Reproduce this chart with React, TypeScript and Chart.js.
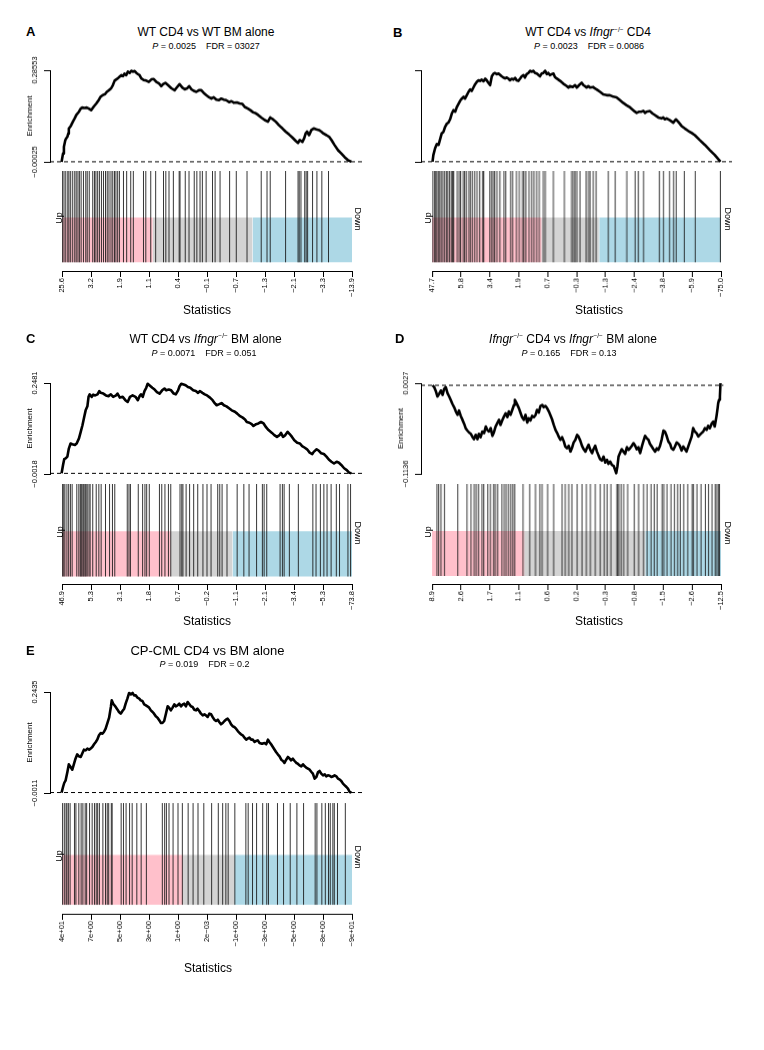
import React, { useEffect, useRef } from "react";
import { Chart, registerables } from "chart.js";

Chart.register(...registerables);

const FONT = '"Liberation Sans", Arial, Helvetica, sans-serif';
Chart.defaults.font.family = FONT;

// ---------------- DATA ----------------
// running enrichment ("worm"): [rank position in % of ranked genes, enrichment]
const wormA: [number, number][] = [[0,0],[0.5,0.026],[0.8,0.047],[1.3,0.068],[1.6,0.073],[2.0,0.078],[2.3,0.088],[2.5,0.104],[3.0,0.109],[3.3,0.114],[3.9,0.125],[4.5,0.135],[5.1,0.146],[6.0,0.156],[6.6,0.166],[7.1,0.169],[7.9,0.168],[8.7,0.169],[9.4,0.166],[10.2,0.161],[11.0,0.171],[12.0,0.182],[12.9,0.194],[13.5,0.203],[14.3,0.208],[15.0,0.211],[15.6,0.218],[16.3,0.223],[17.1,0.229],[17.7,0.239],[18.3,0.253],[18.9,0.257],[19.4,0.260],[20.0,0.265],[20.6,0.270],[21.2,0.267],[21.7,0.275],[22.3,0.270],[22.9,0.281],[23.5,0.277],[24.1,0.284],[24.6,0.281],[25.2,0.283],[25.8,0.277],[26.4,0.273],[26.9,0.270],[27.5,0.260],[28.3,0.255],[29.2,0.253],[30.1,0.249],[31.0,0.257],[31.8,0.258],[32.7,0.249],[33.6,0.244],[34.4,0.236],[35.0,0.242],[35.8,0.246],[36.7,0.239],[37.9,0.229],[39.0,0.223],[39.8,0.232],[40.7,0.242],[41.7,0.231],[42.5,0.226],[43.3,0.229],[44.0,0.236],[44.8,0.226],[45.6,0.221],[46.5,0.218],[47.4,0.223],[48.2,0.223],[49.0,0.215],[49.9,0.208],[50.9,0.201],[51.7,0.197],[52.5,0.201],[53.4,0.194],[54.3,0.192],[55.1,0.197],[55.9,0.194],[56.8,0.192],[57.8,0.186],[58.6,0.189],[59.5,0.184],[60.5,0.185],[61.4,0.182],[62.4,0.180],[63.2,0.171],[64.3,0.166],[65.1,0.161],[66.1,0.154],[67.0,0.151],[67.8,0.146],[68.9,0.138],[70.1,0.130],[71.2,0.125],[72.0,0.138],[73.0,0.132],[73.9,0.125],[75.0,0.114],[76.2,0.104],[77.3,0.094],[78.5,0.085],[79.6,0.076],[80.8,0.065],[81.6,0.059],[82.2,0.068],[83.1,0.062],[83.7,0.073],[84.2,0.088],[84.7,0.094],[85.4,0.083],[86.2,0.099],[87.0,0.104],[87.9,0.101],[88.8,0.099],[89.6,0.094],[90.4,0.088],[91.4,0.083],[92.3,0.078],[93.1,0.068],[94.2,0.052],[95.4,0.036],[96.5,0.026],[97.7,0.014],[98.8,0.005],[100,0]];
const hitsA = [0.2,0.7,1.3,2.0,2.4,3.0,3.7,4.4,4.9,5.5,6.0,6.6,7.4,8.2,8.7,9.4,10.6,11.2,11.7,12.3,12.9,13.6,14.3,15.0,15.6,16.2,16.9,17.5,18.1,18.6,19.2,19.8,21.2,22.3,23.7,24.6,28.1,28.9,30.6,32.3,35.0,35.8,36.9,38.4,40.4,40.7,42.5,43.8,45.6,46.5,47.6,48.4,49.7,51.9,52.8,54.5,57.8,60.1,63.8,68.7,70.7,71.8,77.1,81.4,81.8,82.4,83.7,84.2,84.7,86.4,87.9,89.6,91.9];
const bandsA = [31.3, 65.7];
const xLabelsA = ["25.6","3.2","1.9","1.1","0.4","−0.1","−0.7","−1.3","−2.1","−3.3","−13.9"];
const yTicksA = [-0.00025, 0.28553];
const yLabelsA = ["−0.00025", "0.28553"];

const wormB: [number, number][] = [[0,0],[0.3,0.022],[0.9,0.044],[1.5,0.058],[2.1,0.055],[2.7,0.076],[3.2,0.093],[3.8,0.098],[4.4,0.115],[5.0,0.125],[5.5,0.128],[6.1,0.139],[6.7,0.158],[7.3,0.169],[7.9,0.164],[8.4,0.178],[9.0,0.189],[9.6,0.200],[10.2,0.207],[10.8,0.213],[11.3,0.207],[11.9,0.218],[12.5,0.229],[13.1,0.237],[13.6,0.232],[14.2,0.243],[14.8,0.254],[15.4,0.262],[16.0,0.267],[16.5,0.265],[17.1,0.269],[17.7,0.264],[18.3,0.272],[18.8,0.267],[19.4,0.259],[20.0,0.251],[20.6,0.280],[21.2,0.289],[21.7,0.291],[22.3,0.287],[22.9,0.289],[23.5,0.284],[24.0,0.280],[24.6,0.276],[25.2,0.273],[25.8,0.276],[26.4,0.272],[26.9,0.267],[27.5,0.272],[28.1,0.269],[28.7,0.275],[29.2,0.267],[29.8,0.265],[30.4,0.272],[31.0,0.280],[31.6,0.284],[32.1,0.276],[32.7,0.287],[33.3,0.291],[33.9,0.298],[34.5,0.295],[35.0,0.298],[35.6,0.291],[36.2,0.289],[36.8,0.284],[37.3,0.280],[37.9,0.289],[38.5,0.291],[39.1,0.298],[39.7,0.287],[40.2,0.291],[40.8,0.284],[41.4,0.287],[42.0,0.289],[42.5,0.278],[43.1,0.273],[44.3,0.265],[45.4,0.256],[46.6,0.248],[47.2,0.243],[47.7,0.248],[48.7,0.245],[49.5,0.251],[50.1,0.243],[50.6,0.248],[51.2,0.254],[51.8,0.259],[52.4,0.251],[52.9,0.248],[53.5,0.243],[54.1,0.248],[54.7,0.243],[55.8,0.245],[56.4,0.240],[57.0,0.237],[58.2,0.229],[59.3,0.221],[60.5,0.218],[61.6,0.218],[62.8,0.213],[63.9,0.211],[65.1,0.202],[66.2,0.193],[67.4,0.185],[68.6,0.178],[69.7,0.169],[70.3,0.164],[70.9,0.160],[71.8,0.164],[72.6,0.164],[73.2,0.167],[73.8,0.160],[74.3,0.164],[75.5,0.166],[76.4,0.158],[77.2,0.153],[78.4,0.145],[79.5,0.142],[80.1,0.145],[80.7,0.139],[81.3,0.142],[82.4,0.136],[83.6,0.128],[84.5,0.139],[85.3,0.131],[86.5,0.117],[87.6,0.109],[88.8,0.101],[89.9,0.095],[91.1,0.087],[92.8,0.071],[94.6,0.055],[96.3,0.038],[98.0,0.022],[100,0]];
const hitsB = [0.3,0.9,1.3,1.7,2.2,2.7,3.2,3.8,4.4,5.0,5.5,6.1,6.7,7.1,7.5,8.7,9.4,9.9,10.8,11.3,11.9,12.8,13.3,14.0,14.8,15.6,16.5,17.5,17.9,20.0,20.6,21.2,21.7,22.5,23.5,24.9,25.5,27.2,27.9,29.2,30.2,31.3,31.8,32.5,33.6,34.5,35.3,36.2,37.1,38.5,39.2,42.0,45.8,48.3,48.9,49.5,50.1,51.2,53.3,54.1,54.7,55.8,56.8,61.0,63.4,67.4,70.3,71.4,73.2,78.7,80.1,82.2,83.6,84.5,87.3,91.1,99.8];
const bandsB = [37.9, 57.8];
const xLabelsB = ["47.7","5.8","3.4","1.9","0.7","−0.3","−1.3","−2.4","−3.8","−5.9","−75.0"];
const yTicksB = [-0.0005, 0.30];

const wormC: [number, number][] = [[0,0],[0.5,0.023],[0.9,0.039],[1.4,0.041],[2.0,0.046],[2.5,0.068],[3.1,0.082],[3.7,0.080],[4.6,0.078],[5.2,0.082],[6.0,0.096],[6.6,0.114],[7.2,0.132],[7.8,0.155],[8.3,0.173],[8.9,0.184],[9.3,0.210],[9.7,0.217],[10.4,0.210],[10.9,0.216],[11.6,0.214],[12.4,0.217],[13.0,0.226],[13.5,0.221],[14.4,0.219],[15.3,0.214],[16.2,0.212],[17.0,0.217],[17.8,0.210],[18.8,0.214],[19.3,0.219],[20.1,0.208],[21.1,0.210],[22.0,0.201],[22.8,0.196],[23.6,0.210],[24.5,0.214],[25.5,0.210],[26.3,0.201],[26.9,0.212],[27.4,0.217],[28.0,0.210],[28.6,0.226],[29.2,0.235],[29.7,0.246],[30.3,0.242],[31.3,0.235],[32.1,0.230],[32.9,0.223],[33.8,0.219],[34.7,0.228],[35.5,0.233],[36.1,0.228],[37.0,0.230],[37.8,0.228],[38.7,0.219],[39.4,0.217],[40.2,0.228],[40.7,0.239],[41.3,0.246],[42.1,0.244],[42.8,0.242],[43.6,0.237],[44.4,0.235],[45.4,0.228],[46.3,0.226],[47.1,0.221],[47.7,0.226],[48.6,0.221],[49.4,0.217],[50.2,0.214],[51.2,0.208],[52.1,0.201],[52.9,0.192],[53.5,0.187],[54.4,0.190],[55.2,0.193],[56.0,0.187],[56.9,0.184],[57.9,0.178],[58.7,0.173],[59.8,0.169],[60.6,0.164],[61.6,0.157],[62.5,0.153],[63.3,0.148],[63.9,0.141],[64.8,0.139],[65.6,0.135],[66.2,0.130],[67.1,0.135],[67.9,0.137],[68.8,0.141],[69.7,0.137],[70.6,0.126],[71.4,0.119],[72.6,0.111],[73.4,0.105],[74.3,0.100],[75.2,0.105],[75.7,0.111],[76.4,0.100],[77.2,0.105],[78.0,0.114],[78.7,0.108],[79.5,0.100],[80.3,0.091],[81.3,0.084],[82.2,0.082],[83.0,0.075],[83.8,0.071],[84.7,0.066],[85.6,0.057],[86.5,0.053],[87.0,0.059],[88.0,0.066],[88.8,0.062],[89.6,0.055],[90.5,0.053],[91.4,0.046],[92.2,0.038],[93.1,0.032],[94.0,0.027],[94.9,0.032],[95.7,0.029],[96.5,0.023],[97.5,0.014],[98.4,0.009],[99.2,0.002],[100,0]];
const hitsC = [0.2,0.6,1.0,1.7,2.3,2.9,3.5,5.1,5.8,6.3,6.6,6.9,7.3,7.6,8.0,8.3,8.7,9.3,9.7,10.6,11.8,12.7,13.5,15.0,16.4,17.4,18.2,22.5,23.1,23.6,26.3,27.8,28.6,29.2,30.1,33.6,34.4,35.5,36.7,37.5,40.7,41.3,41.7,42.8,44.0,45.4,46.8,48.6,50.0,51.4,53.7,54.4,55.2,56.9,60.4,62.7,64.5,67.1,69.1,69.7,70.6,75.2,76.0,76.6,78.4,81.5,86.5,87.6,89.1,90.3,91.4,92.8,94.6,95.7,98.6,99.5];
const bandsC = [37.5, 58.8];
const xLabelsC = ["46.9","5.3","3.1","1.8","0.7","−0.2","−1.1","−2.1","−3.4","−5.3","−73.8"];
const yTicksC = [-0.0018, 0.2481];
const yLabelsC = ["−0.0018", "0.2481"];

const wormD: [number, number][] = [[0,0],[0.6,-0.0024],[1.2,-0.0080],[1.7,-0.0144],[2.3,-0.0110],[2.9,-0.0067],[3.5,-0.0123],[4.0,-0.0050],[4.6,-0.0024],[5.2,-0.0101],[5.8,-0.0144],[6.3,-0.0187],[6.9,-0.0238],[7.5,-0.0281],[8.1,-0.0336],[8.7,-0.0379],[9.2,-0.0324],[9.8,-0.0392],[10.4,-0.0443],[11.0,-0.0495],[11.5,-0.0550],[12.1,-0.0580],[12.7,-0.0606],[13.3,-0.0623],[13.8,-0.0657],[14.4,-0.0691],[15.0,-0.0636],[15.6,-0.0691],[16.1,-0.0623],[16.7,-0.0666],[17.3,-0.0593],[17.9,-0.0614],[18.5,-0.0529],[19.0,-0.0572],[19.6,-0.0593],[20.2,-0.0550],[20.8,-0.0649],[21.3,-0.0606],[21.9,-0.0529],[22.5,-0.0486],[23.1,-0.0443],[23.6,-0.0508],[24.2,-0.0452],[24.8,-0.0401],[25.4,-0.0358],[26.0,-0.0409],[26.5,-0.0336],[27.1,-0.0379],[27.7,-0.0315],[28.3,-0.0251],[28.6,-0.0187],[29.2,-0.0230],[30.0,-0.0294],[30.6,-0.0358],[31.1,-0.0409],[31.7,-0.0443],[32.3,-0.0379],[32.9,-0.0478],[33.4,-0.0422],[34.0,-0.0452],[34.6,-0.0392],[35.2,-0.0409],[35.8,-0.0379],[36.3,-0.0315],[36.9,-0.0349],[37.5,-0.0264],[38.1,-0.0251],[38.6,-0.0281],[39.2,-0.0264],[39.8,-0.0294],[40.4,-0.0336],[40.9,-0.0379],[41.5,-0.0435],[42.1,-0.0508],[42.7,-0.0572],[43.3,-0.0614],[43.8,-0.0657],[44.4,-0.0700],[45.0,-0.0666],[45.6,-0.0721],[46.1,-0.0785],[46.7,-0.0807],[47.3,-0.0777],[47.9,-0.0850],[48.4,-0.0807],[49.0,-0.0734],[49.6,-0.0700],[50.2,-0.0636],[50.7,-0.0657],[51.3,-0.0708],[51.9,-0.0777],[52.5,-0.0820],[53.1,-0.0850],[53.6,-0.0807],[54.2,-0.0764],[54.8,-0.0828],[55.4,-0.0871],[55.9,-0.0820],[56.5,-0.0777],[57.1,-0.0850],[57.7,-0.0905],[58.2,-0.0948],[58.8,-0.0965],[59.4,-0.0914],[60.0,-0.0991],[60.6,-0.0956],[61.1,-0.1008],[61.7,-0.0978],[62.3,-0.1021],[62.9,-0.1033],[63.4,-0.1085],[63.8,-0.1127],[64.2,-0.1042],[64.6,-0.0914],[65.2,-0.0862],[65.7,-0.0820],[66.3,-0.0850],[66.9,-0.0880],[67.5,-0.0794],[68.1,-0.0828],[68.6,-0.0807],[69.2,-0.0777],[69.8,-0.0743],[70.4,-0.0777],[70.9,-0.0820],[71.5,-0.0794],[72.1,-0.0871],[72.7,-0.0785],[73.2,-0.0721],[73.8,-0.0649],[74.4,-0.0679],[75.0,-0.0700],[75.5,-0.0751],[76.1,-0.0785],[76.7,-0.0820],[77.3,-0.0850],[77.9,-0.0807],[78.4,-0.0828],[79.0,-0.0777],[79.6,-0.0691],[80.2,-0.0580],[80.7,-0.0593],[81.3,-0.0649],[81.9,-0.0721],[82.5,-0.0751],[83.0,-0.0807],[83.6,-0.0828],[84.2,-0.0785],[84.8,-0.0734],[85.4,-0.0751],[85.9,-0.0777],[86.5,-0.0837],[87.1,-0.0785],[87.7,-0.0820],[88.2,-0.0850],[88.8,-0.0785],[89.4,-0.0721],[90.0,-0.0657],[90.5,-0.0550],[91.1,-0.0593],[91.7,-0.0614],[92.3,-0.0657],[92.8,-0.0636],[93.4,-0.0614],[94.0,-0.0593],[94.6,-0.0550],[95.2,-0.0572],[95.7,-0.0520],[96.3,-0.0550],[96.9,-0.0495],[97.5,-0.0465],[98.0,-0.0529],[98.6,-0.0401],[99.0,-0.0294],[99.2,-0.0230],[99.5,-0.0187],[99.8,-0.0144],[100,0.0027]];
const hitsD = [1.7,2.3,3.1,4.3,8.9,12.1,13.5,14.6,15.3,16.1,17.3,17.9,19.3,20.2,21.3,21.9,22.7,24.2,25.0,25.7,26.5,27.3,28.0,28.6,31.5,33.8,35.8,37.3,38.1,40.0,42.1,45.0,46.1,47.3,48.4,50.2,51.9,53.4,54.8,56.5,58.2,59.6,60.6,61.9,64.0,64.2,64.6,65.4,66.3,67.7,70.0,71.5,73.2,74.4,75.8,76.9,77.9,79.6,80.2,81.3,82.7,83.9,85.0,85.9,87.1,88.5,90.0,90.5,91.7,93.1,94.6,95.7,96.9,98.0,98.6,99.2,99.5];
const bandsD = [31.9, 73.75];
const xLabelsD = ["8.9","2.6","1.7","1.1","0.6","0.2","−0.3","−0.8","−1.5","−2.6","−12.5"];
const yTicksD = [-0.1136, 0.0027];
const yLabelsD = ["−0.1136", "0.0027"];

const wormE: [number, number][] = [[0,0],[0.5,0.0134],[0.9,0.0231],[1.4,0.0296],[2.0,0.0498],[2.5,0.0683],[3.1,0.0619],[3.7,0.0554],[4.3,0.0699],[4.8,0.0820],[5.4,0.0925],[6.0,0.0877],[6.6,0.0861],[7.2,0.0958],[7.7,0.1038],[8.3,0.1022],[8.9,0.1063],[9.5,0.1038],[10.0,0.1063],[10.6,0.1103],[11.2,0.1168],[11.8,0.1224],[12.3,0.1281],[12.9,0.1386],[13.5,0.1442],[14.1,0.1426],[14.6,0.1466],[15.2,0.1547],[15.8,0.1684],[16.4,0.1813],[17.0,0.2072],[17.3,0.2233],[17.8,0.2152],[18.5,0.2088],[19.3,0.2007],[19.8,0.1951],[20.4,0.1910],[21.0,0.1975],[21.6,0.2031],[22.1,0.2152],[22.7,0.2274],[23.3,0.2411],[23.9,0.2378],[24.5,0.2411],[25.0,0.2354],[25.6,0.2354],[26.2,0.2298],[26.8,0.2274],[27.3,0.2233],[27.9,0.2217],[28.5,0.2136],[29.1,0.2112],[29.6,0.2088],[30.2,0.2056],[30.8,0.1991],[31.4,0.1951],[31.9,0.1910],[32.5,0.1846],[33.1,0.1813],[33.7,0.1749],[34.3,0.1684],[34.8,0.1684],[35.4,0.1733],[36.0,0.1910],[36.6,0.2088],[37.1,0.2056],[37.7,0.1991],[38.3,0.2056],[38.9,0.2136],[39.4,0.2088],[40.0,0.2112],[40.6,0.2152],[41.2,0.2088],[41.8,0.2136],[42.3,0.2152],[42.9,0.2088],[43.5,0.2193],[44.1,0.2136],[44.6,0.2088],[45.2,0.2072],[45.8,0.2007],[46.4,0.1991],[46.9,0.2031],[47.5,0.1975],[48.1,0.1910],[48.7,0.1870],[49.3,0.1894],[49.8,0.1870],[50.4,0.1830],[51.0,0.1910],[51.6,0.1894],[52.1,0.1830],[52.7,0.1765],[53.3,0.1733],[53.9,0.1765],[54.4,0.1708],[55.0,0.1652],[55.6,0.1684],[56.2,0.1733],[56.7,0.1765],[57.3,0.1789],[57.9,0.1733],[58.5,0.1652],[59.1,0.1604],[59.6,0.1587],[60.2,0.1547],[60.8,0.1490],[61.4,0.1442],[61.9,0.1410],[62.5,0.1386],[63.1,0.1329],[63.7,0.1281],[64.2,0.1305],[64.8,0.1329],[65.4,0.1281],[66.0,0.1281],[66.6,0.1224],[67.1,0.1248],[67.7,0.1264],[68.3,0.1200],[68.9,0.1184],[69.4,0.1184],[70.0,0.1200],[70.6,0.1168],[71.2,0.1281],[71.7,0.1224],[72.3,0.1168],[72.9,0.1103],[73.5,0.1038],[74.0,0.0982],[74.6,0.0925],[75.2,0.0877],[75.8,0.0796],[76.4,0.0764],[76.9,0.0716],[77.5,0.0796],[78.1,0.0861],[78.7,0.0820],[79.2,0.0780],[79.8,0.0820],[80.4,0.0764],[81.0,0.0716],[81.5,0.0699],[82.1,0.0659],[82.7,0.0635],[83.3,0.0683],[83.9,0.0635],[84.4,0.0603],[85.0,0.0578],[85.6,0.0554],[86.2,0.0498],[86.7,0.0457],[87.3,0.0336],[87.9,0.0376],[88.5,0.0498],[89.0,0.0522],[89.6,0.0457],[90.2,0.0417],[90.8,0.0441],[91.3,0.0393],[91.9,0.0417],[92.5,0.0409],[93.1,0.0376],[93.7,0.0393],[94.2,0.0417],[94.8,0.0393],[95.4,0.0336],[96.0,0.0312],[96.5,0.0280],[97.1,0.0215],[97.7,0.0175],[98.3,0.0134],[98.8,0.0094],[99.4,0.0013],[100,0]];
const hitsE = [0.2,0.8,1.4,1.7,2.2,2.8,4.3,4.8,5.8,6.6,7.2,8.0,8.5,9.5,10.4,11.2,11.8,12.3,12.9,14.1,15.0,15.6,16.1,17.0,17.3,20.4,21.2,22.1,23.3,24.2,25.8,27.3,29.1,34.6,35.4,36.0,36.9,38.3,40.0,41.5,43.5,45.2,46.9,48.9,51.6,53.9,55.4,56.5,57.3,59.6,63.4,64.2,65.7,67.1,69.2,70.6,71.2,74.3,76.4,78.7,81.0,83.3,87.3,87.9,89.6,90.8,91.9,92.5,93.4,93.9,95.0,97.7];
const bandsE = [41.7, 59.4];
const xLabelsE = ["4e+01","7e+00","5e+00","3e+00","1e+00","2e−03","−1e+00","−3e+00","−5e+00","−8e+00","−9e+01"];
const yTicksE = [-0.0011, 0.2435];
const yLabelsE = ["−0.0011", "0.2435"];

// ---------------- LAYOUT ----------------
type Panel = {
  worm: [number, number][]; hits: number[]; bands: number[]; xLabels: string[];
  yTicks: number[]; yLabels?: string[]; dashEnd: number;
  axisX: number; dataW: number; wTop: number; wBot: number; bTop: number; bBot: number; axisY: number;
  letter: string; letterX: number; letterY: number;
  title: React.ReactNode; titleX: number; titleY: number; titleSize: number;
  sub: [string, string]; subX: number; subY: number;
  statX: number; statY: number; upX: number; downX: number;
};

const Sup = () => (
  <span style={{ fontSize: 6.5, position: "relative", top: -4.5, marginLeft: 0.5, lineHeight: 0 }}>−/−</span>
);
const Ifngr = () => (<><i>Ifngr</i><Sup /></>);

const panels: Panel[] = [
  { worm: wormA, hits: hitsA, bands: bandsA, xLabels: xLabelsA, yTicks: yTicksA, yLabels: yLabelsA, dashEnd: 104,
    axisX: 50, dataW: 290, wTop: 70, wBot: 161.8, bTop: 170.7, bBot: 262.3, axisY: 271,
    letter: "A", letterX: 26, letterY: 31, title: <>WT CD4 vs WT BM alone</>, titleX: 206, titleY: 31.7, titleSize: 12,
    sub: ["0.0025", "03027"], subX: 206, subY: 46, statX: 207, statY: 310.3, upX: 58.5, downX: 357 },
  { worm: wormB, hits: hitsB, bands: bandsB, xLabels: xLabelsB, yTicks: yTicksB, dashEnd: 104,
    axisX: 420.5, dataW: 288.5, wTop: 70, wBot: 161.8, bTop: 170.7, bBot: 262.3, axisY: 271,
    letter: "B", letterX: 393, letterY: 32, title: <>WT CD4 vs <Ifngr /> CD4</>, titleX: 588, titleY: 32, titleSize: 12,
    sub: ["0.0023", "0.0086"], subX: 589, subY: 46, statX: 599, statY: 310.3, upX: 428, downX: 727 },
  { worm: wormC, hits: hitsC, bands: bandsC, xLabels: xLabelsC, yTicks: yTicksC, yLabels: yLabelsC, dashEnd: 104,
    axisX: 50, dataW: 290, wTop: 382.7, wBot: 474, bTop: 483.5, bBot: 576, axisY: 583.5,
    letter: "C", letterX: 26, letterY: 337.5, title: <>WT CD4 vs <Ifngr /> BM alone</>, titleX: 205.6, titleY: 338.7, titleSize: 12,
    sub: ["0.0071", "0.051"], subX: 204, subY: 353.3, statX: 207, statY: 621, upX: 60, downX: 357 },
  { worm: wormD, hits: hitsD, bands: bandsD, xLabels: xLabelsD, yTicks: yTicksD, yLabels: yLabelsD, dashEnd: 101,
    axisX: 420.5, dataW: 288.5, wTop: 383.3, wBot: 474, bTop: 484, bBot: 576, axisY: 584,
    letter: "D", letterX: 395, letterY: 337.5, title: <><Ifngr /> CD4 vs <Ifngr /> BM alone</>, titleX: 573, titleY: 338.5, titleSize: 12,
    sub: ["0.165", "0.13"], subX: 569, subY: 353, statX: 599, statY: 621, upX: 428, downX: 727 },
  { worm: wormE, hits: hitsE, bands: bandsE, xLabels: xLabelsE, yTicks: yTicksE, yLabels: yLabelsE, dashEnd: 104,
    axisX: 50, dataW: 290, wTop: 691.7, wBot: 792.7, bTop: 803.3, bBot: 905, axisY: 914,
    letter: "E", letterX: 26, letterY: 650, title: <>CP-CML CD4 vs BM alone</>, titleX: 207.5, titleY: 650, titleSize: 13,
    sub: ["0.019", "0.2"], subX: 204.5, subY: 664, statX: 208, statY: 967.7, upX: 59, downX: 357 },
];

const BAND_TOP = 0.49;
const PINK = "#FFC0CB";
const GREY = "#D3D3D3";
const BLUE = "#ADD8E6";

// ---------------- CHART CONFIGS ----------------
function makeYLabelPlugin(labels: string[]) {
  return {
    id: "rYTickLabels",
    afterDraw(chart: any) {
      const y = chart.scales.y;
      const { ctx, chartArea } = chart;
      ctx.save();
      ctx.fillStyle = "#000";
      ctx.font = `7.5px ${FONT}`;
      ctx.textAlign = "center";
      ctx.textBaseline = "middle";
      y.ticks.forEach((t: any, i: number) => {
        const py = y.getPixelForValue(t.value);
        ctx.save();
        ctx.translate(chartArea.left - 15, py);
        ctx.rotate(-Math.PI / 2);
        ctx.fillText(labels[i], 0, 0);
        ctx.restore();
      });
      ctx.restore();
    },
  };
}

const PAD = 24;
const AXW = 50;

function wormGeom(p: Panel) {
  const plotW = p.dataW * 1.08;
  return { left: p.axisX - AXW, top: p.wTop - PAD, width: AXW + plotW + 14, height: p.wBot - p.wTop + 2 * PAD };
}

function wormConfig(p: Panel): any {
  return {
    type: "line",
    data: {
      datasets: [
        { data: p.worm.map(([x, y]) => ({ x, y })), borderColor: "#000", borderWidth: 2.6, pointRadius: 0,
          tension: 0, clip: false, borderJoinStyle: "round", order: 0 },
        { data: [{ x: -4, y: 0 }, { x: p.dashEnd, y: 0 }], borderColor: "#000", borderWidth: 1,
          borderDash: [4, 3], pointRadius: 0, clip: false, order: 1 },
      ],
    },
    options: {
      animation: false, responsive: false, devicePixelRatio: 1, events: [],
      layout: { padding: { left: 0, right: 14, top: PAD, bottom: PAD } },
      plugins: { legend: { display: false }, tooltip: { enabled: false } },
      scales: {
        x: { type: "linear", min: -4, max: 104, display: false },
        y: {
          type: "linear", min: p.yTicks[0], max: p.yTicks[1],
          afterBuildTicks: (s: any) => { s.ticks = p.yTicks.map((v) => ({ value: v })); },
          afterFit: (s: any) => { s.width = AXW; },
          grid: { drawOnChartArea: false, drawTicks: true, tickLength: 6, tickColor: "#000", tickWidth: 1 },
          border: { display: true, color: "#000", width: 1 },
          ticks: { display: false },
          title: { display: !!p.yLabels, text: "Enrichment", color: "#000",
                   font: { family: FONT, size: 8 }, padding: { top: 24.7, bottom: 0 } },
        },
      },
    },
    plugins: p.yLabels ? [makeYLabelPlugin(p.yLabels)] : [],
  };
}

const BC_TOP_PAD = 6;
const BC_SIDE = 20;
const XAX_H = 36;

function barGeom(p: Panel) {
  const dataL = p.axisX + 0.04 * p.dataW;
  return { left: dataL - BC_SIDE, top: p.bTop - BC_TOP_PAD, width: p.dataW + 2 * BC_SIDE,
           height: p.axisY - p.bTop + BC_TOP_PAD + XAX_H };
}

function barConfig(p: Panel): any {
  const ymin = -(p.axisY - p.bBot) / (p.bBot - p.bTop);
  const hitData: any[] = [];
  p.hits.forEach((h) => { hitData.push({ x: h, y: 0 }, { x: h, y: 1 }, { x: h, y: null }); });
  const band = (x0: number, x1: number, color: string) => ({
    data: [{ x: x0, y: BAND_TOP }, { x: x1, y: BAND_TOP }], borderWidth: 0, pointRadius: 0,
    backgroundColor: color, fill: { value: 0 }, order: 2,
  });
  return {
    type: "line",
    data: {
      datasets: [
        { data: hitData, borderColor: "rgba(20,20,20,0.85)", borderWidth: 1, pointRadius: 0, spanGaps: false, order: 0 },
        band(0, p.bands[0], PINK),
        band(p.bands[0], p.bands[1], GREY),
        band(p.bands[1], 100, BLUE),
      ],
    },
    options: {
      animation: false, responsive: false, devicePixelRatio: 1, events: [],
      layout: { padding: { left: BC_SIDE, right: BC_SIDE, top: BC_TOP_PAD, bottom: 0 } },
      plugins: { legend: { display: false }, tooltip: { enabled: false } },
      scales: {
        x: {
          type: "linear", min: 0, max: 100,
          afterBuildTicks: (s: any) => { s.ticks = p.xLabels.map((_, i) => ({ value: i * 10 })); },
          afterFit: (s: any) => { s.height = XAX_H; },
          grid: { drawOnChartArea: false, drawTicks: true, tickLength: 6, tickColor: "#000", tickWidth: 1 },
          border: { display: true, color: "#000", width: 1 },
          ticks: { autoSkip: false, minRotation: 90, maxRotation: 90, padding: 1, color: "#000",
                   font: { family: FONT, size: 7.5 }, callback: (_v: any, i: number) => p.xLabels[i] },
        },
        y: { type: "linear", min: ymin, max: 1, display: false },
      },
    },
  };
}

// ---------------- COMPONENTS ----------------
function ChartCanvas({ geom, config }: { geom: { left: number; top: number; width: number; height: number }; config: () => any }) {
  const ref = useRef<HTMLCanvasElement>(null);
  useEffect(() => {
    const chart = new Chart(ref.current as HTMLCanvasElement, config());
    return () => chart.destroy();
  }, []);
  return (
    <canvas ref={ref} width={geom.width} height={geom.height}
      style={{ position: "absolute", left: geom.left, top: geom.top, width: geom.width, height: geom.height }} />
  );
}

function Txt({ x, y, size, children, bold, rot, left }: any) {
  const tr = rot ? `translate(-50%,-50%) rotate(${rot}deg)` : left ? "translateY(-50%)" : "translate(-50%,-50%)";
  return (
    <div style={{ position: "absolute", left: x, top: y, fontFamily: FONT, fontSize: size, lineHeight: `${size}px`,
      whiteSpace: "nowrap", fontWeight: bold ? "bold" : "normal", transform: tr, color: "#000" }}>
      {children}
    </div>
  );
}

function PanelView({ p }: { p: Panel }) {
  const bandY = p.bBot - BAND_TOP * (p.bBot - p.bTop);
  return (
    <>
      <Txt x={p.letterX} y={p.letterY} size={13} bold left>{p.letter}</Txt>
      <Txt x={p.titleX} y={p.titleY} size={p.titleSize}>{p.title}</Txt>
      <Txt x={p.subX} y={p.subY} size={9}>
        <i>P</i> = {p.sub[0]}<span style={{ marginLeft: 10 }}>FDR = {p.sub[1]}</span>
      </Txt>
      <ChartCanvas geom={wormGeom(p)} config={() => wormConfig(p)} />
      <ChartCanvas geom={barGeom(p)} config={() => barConfig(p)} />
      <Txt x={p.upX} y={bandY + 1} size={9} rot={-90}>Up</Txt>
      <Txt x={p.downX} y={bandY + 2} size={9} rot={90}>Down</Txt>
      <Txt x={p.statX} y={p.statY} size={12}>Statistics</Txt>
    </>
  );
}

export default function App() {
  return (
    <div style={{ position: "absolute", left: 0, top: 0, width: 764, height: 1050, background: "#fff", overflow: "hidden" }}>
      {panels.map((p) => <PanelView key={p.letter} p={p} />)}
    </div>
  );
}
